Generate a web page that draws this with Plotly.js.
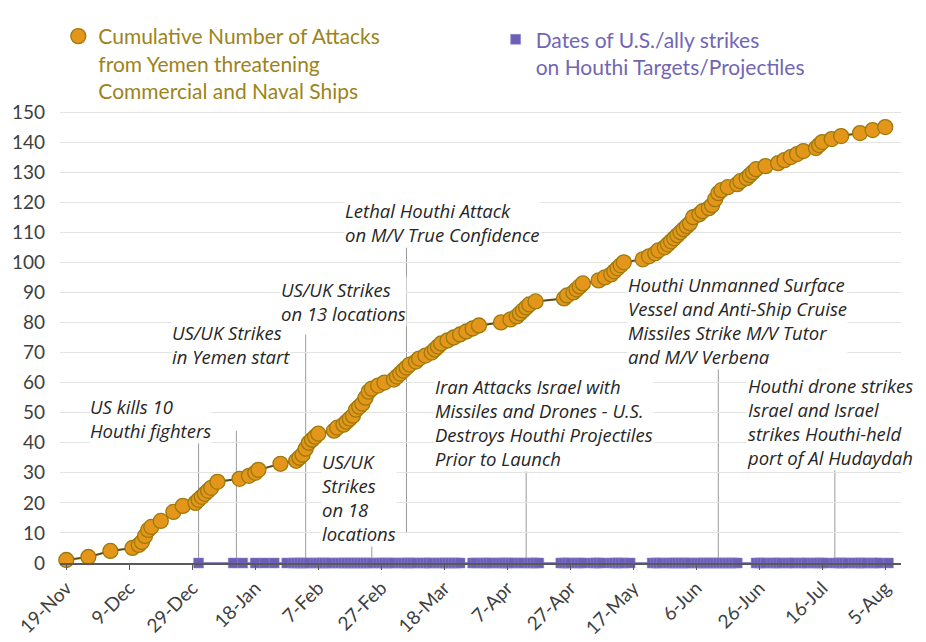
<!DOCTYPE html>
<html>
<head>
<meta charset="utf-8">
<script src="https://cdn.plot.ly/plotly-3.0.1.min.js"></script>
<style>html,body{margin:0;padding:0;background:#fff;}#chart{width:926px;height:642px;}</style>
</head>
<body>
<div id="chart"></div>
<script>
// ---- Cumulative attacks from Yemen ----
const attackDates = [
  '2023-11-19','2023-11-26','2023-12-03','2023-12-10','2023-12-12','2023-12-13','2023-12-14','2023-12-15','2023-12-16','2023-12-19',
  '2023-12-23','2023-12-26','2023-12-30','2023-12-31','2024-01-01','2024-01-02','2024-01-03','2024-01-04','2024-01-06',
  '2024-01-13','2024-01-16','2024-01-18','2024-01-19','2024-01-26','2024-01-31','2024-02-01','2024-02-02','2024-02-03','2024-02-04',
  '2024-02-05','2024-02-06','2024-02-07','2024-02-12','2024-02-13','2024-02-15','2024-02-16','2024-02-17','2024-02-18','2024-02-19',
  '2024-02-20','2024-02-21','2024-02-22','2024-02-23','2024-02-24','2024-02-26','2024-02-28','2024-03-02','2024-03-03','2024-03-04',
  '2024-03-05','2024-03-06','2024-03-07','2024-03-09','2024-03-10','2024-03-12','2024-03-14','2024-03-15','2024-03-16','2024-03-17',
  '2024-03-19','2024-03-21','2024-03-23','2024-03-25','2024-03-27','2024-03-29','2024-04-05','2024-04-08','2024-04-10','2024-04-11',
  '2024-04-12','2024-04-13','2024-04-14','2024-04-16','2024-04-25','2024-04-26','2024-04-28','2024-04-29','2024-04-30','2024-05-01',
  '2024-05-06','2024-05-08','2024-05-10','2024-05-11','2024-05-12','2024-05-13','2024-05-14','2024-05-20','2024-05-22','2024-05-24',
  '2024-05-25','2024-05-27','2024-05-28','2024-05-29','2024-05-30','2024-05-31','2024-06-01','2024-06-02','2024-06-03','2024-06-04',
  '2024-06-05','2024-06-07','2024-06-08','2024-06-10','2024-06-11','2024-06-12','2024-06-13','2024-06-14','2024-06-16','2024-06-19',
  '2024-06-20','2024-06-22','2024-06-23','2024-06-24','2024-06-25','2024-06-28','2024-07-02','2024-07-04','2024-07-06','2024-07-08',
  '2024-07-10','2024-07-14','2024-07-15','2024-07-16','2024-07-19','2024-07-22','2024-07-28','2024-08-01','2024-08-05'
];
const attackCounts = [
  1,2,4,5,6,7,9,11,12,14,
  17,19,20,21,22,23,24,25,27,
  28,29,30,31,33,34,35,36,38,40,
  41,42,43,44,45,46,47,48,49,51,
  52,53,55,57,58,59,60,61,62,63,
  64,65,66,67,68,69,70,71,72,73,
  74,75,76,77,78,79,80,81,82,83,
  84,85,86,87,88,89,90,91,92,93,
  94,95,96,97,98,99,100,101,102,103,
  104,105,106,107,108,109,110,111,112,113,
  115,116,117,118,119,121,123,124,125,126,
  127,128,129,130,131,132,133,134,135,136,
  137,138,139,140,141,142,143,144,145
];

// ---- Dates of U.S./ally strikes ----
const strikeDates = [
  '2023-12-31',
  '2024-01-11','2024-01-14','2024-01-18','2024-01-21','2024-01-24','2024-01-28',
  '2024-01-30','2024-01-31','2024-02-01','2024-02-02','2024-02-03','2024-02-04','2024-02-06','2024-02-07','2024-02-08','2024-02-09',
  '2024-02-10','2024-02-11','2024-02-13','2024-02-14','2024-02-15','2024-02-16','2024-02-17','2024-02-18','2024-02-19','2024-02-20',
  '2024-02-21','2024-02-22','2024-02-23','2024-02-24','2024-02-26','2024-02-27','2024-02-28','2024-02-29','2024-03-01','2024-03-02',
  '2024-03-04','2024-03-05','2024-03-06','2024-03-07','2024-03-08','2024-03-09','2024-03-11','2024-03-12','2024-03-13','2024-03-14',
  '2024-03-16','2024-03-17','2024-03-18','2024-03-19','2024-03-20','2024-03-21','2024-03-22','2024-03-23','2024-03-27','2024-03-28',
  '2024-03-30','2024-03-31','2024-04-01','2024-04-02','2024-04-04','2024-04-05','2024-04-06','2024-04-07','2024-04-08','2024-04-09',
  '2024-04-11','2024-04-12','2024-04-14','2024-04-15','2024-04-16','2024-04-17',
  '2024-04-24','2024-04-25','2024-04-26','2024-04-27','2024-04-29','2024-04-30','2024-05-01','2024-05-04','2024-05-05','2024-05-06',
  '2024-05-07','2024-05-10','2024-05-11','2024-05-12','2024-05-13','2024-05-14','2024-05-16',
  '2024-05-23','2024-05-24','2024-05-25','2024-05-26','2024-05-28','2024-05-29','2024-05-30','2024-05-31','2024-06-01','2024-06-02',
  '2024-06-03','2024-06-04','2024-06-06','2024-06-07','2024-06-08','2024-06-09','2024-06-10','2024-06-11','2024-06-12','2024-06-13',
  '2024-06-14','2024-06-15','2024-06-16','2024-06-17','2024-06-18','2024-06-19',
  '2024-06-25','2024-06-26','2024-06-27','2024-06-28','2024-06-30','2024-07-01','2024-07-02','2024-07-03','2024-07-05','2024-07-06',
  '2024-07-07','2024-07-09','2024-07-10','2024-07-11','2024-07-13','2024-07-14','2024-07-15','2024-07-16','2024-07-17','2024-07-20',
  '2024-07-21','2024-07-22','2024-07-23','2024-07-24','2024-07-26','2024-07-27','2024-07-28','2024-07-29','2024-07-30','2024-08-01',
  '2024-08-02','2024-08-03','2024-08-06'
];
const strikeLevel = strikeDates.map(() => 0);

// ---- Axis ticks ----
const tickDates = ['2023-11-19','2023-12-09','2023-12-29','2024-01-18','2024-02-07','2024-02-27','2024-03-18',
                   '2024-04-07','2024-04-27','2024-05-17','2024-06-06','2024-06-26','2024-07-16','2024-08-05'];
const tickLabels = ['19-Nov','9-Dec','29-Dec','18-Jan','7-Feb','27-Feb','18-Mar','7-Apr','27-Apr','17-May','6-Jun','26-Jun','16-Jul','5-Aug'];

// ---- Event call-outs ----
const eventDates = ['2023-12-31','2024-01-12','2024-02-03','2024-02-24','2024-03-06','2024-04-13','2024-06-13','2024-07-20'];
const eventLineTop = [41, 44, 76, 6.5, 105, 32, 65, 32.5];
const eventLineBottom = [0, 0, 0, 0, 10, 0, 0, 0];
const eventLabels = [
  'US kills 10<br>Houthi fighters',
  'US/UK Strikes<br>in Yemen start',
  'US/UK Strikes<br>on 13 locations',
  'US/UK<br>Strikes<br>on 18<br>locations',
  'Lethal Houthi Attack<br>on M/V True Confidence',
  'Iran Attacks Israel with<br>Missiles and Drones - U.S.<br>Destroys Houthi Projectiles<br>Prior to Launch',
  'Houthi Unmanned Surface<br>Vessel and Anti-Ship Cruise<br>Missiles Strike M/V Tutor<br>and M/V Verbena',
  'Houthi drone strikes<br>Israel and Israel<br>strikes Houthi-held<br>port of Al Hudaydah'
];

// label block positions (paper coords, top-left)
const labelPos = [
  [0.0345, 0.372], [0.1320, 0.535], [0.2616, 0.627], [0.3103, 0.251],
  [0.3377, 0.800], [0.4447, 0.415], [0.6742, 0.640], [0.8157, 0.419]
];

const FONT = 'Lato, "Open Sans", "DejaVu Sans", sans-serif';
const NOTE_FONT = '"Open Sans", "Noto Sans", sans-serif';

const traces = [
  { x: strikeDates, y: strikeLevel, type: 'scatter', mode: 'lines', showlegend: false, hoverinfo: 'skip',
    line: { color: '#6f67ad', width: 1.5 }, cliponaxis: false },
  { x: strikeDates, y: strikeLevel, type: 'scatter', mode: 'markers', name: 'Dates of U.S./ally strikes<br>on Houthi Targets/Projectiles',
    legend: 'legend2',
    marker: { symbol: 'square', size: 10, color: '#6a5eb6', line: { color: '#9189d2', width: 0.5 } }, cliponaxis: false },
  { x: attackDates, y: attackCounts, type: 'scatter', mode: 'lines', showlegend: false, hoverinfo: 'skip',
    line: { color: '#5e4a18', width: 2 }, cliponaxis: false },
  { x: attackDates, y: attackCounts, type: 'scatter', mode: 'markers',
    name: 'Cumulative Number of Attacks<br>from Yemen threatening<br>Commercial and Naval Ships',
    legend: 'legend',
    marker: { symbol: 'circle', size: 15, color: '#e3961a', line: { color: '#9c7a0c', width: 1.3 } }, cliponaxis: false }
];

const shapes = eventDates.map((d, i) => ({
  type: 'line', xref: 'x', yref: 'y', x0: d, x1: d, y0: eventLineBottom[i], y1: eventLineTop[i],
  line: { color: '#9a9a9a', width: 1 }, layer: 'below'
}));

const annotations = eventLabels.map((t, i) => ({
  xref: 'paper', yref: 'paper', x: labelPos[i][0], y: labelPos[i][1], xanchor: 'left', yanchor: 'top',
  text: t, showarrow: false, align: 'left', bgcolor: 'rgba(255,255,255,0.95)', borderpad: 0,
  font: { family: NOTE_FONT, size: 18.5, color: '#262626', style: 'italic' }
}));

const layout = {
  width: 926, height: 642,
  margin: { l: 60, r: 25, t: 106, b: 79 },
  paper_bgcolor: '#ffffff', plot_bgcolor: '#ffffff',
  font: { family: FONT, color: '#404040' },
  xaxis: {
    type: 'date', range: ['2023-11-17', '2024-08-10'],
    tickvals: tickDates, ticktext: tickLabels, tickangle: -45,
    tickfont: { family: FONT, size: 19, color: '#404040' },
    showgrid: false, zeroline: false, showline: true, linecolor: '#595959', linewidth: 1.5,
    ticks: 'outside', ticklen: 5, tickcolor: '#595959', automargin: false
  },
  yaxis: {
    range: [0, 152], tick0: 0, dtick: 10,
    tickfont: { family: FONT, size: 19, color: '#404040' },
    showgrid: true, gridcolor: '#e3e3e3', gridwidth: 1, zeroline: false, showline: false,
    ticks: '', ticklabelstandoff: 14, automargin: false
  },
  legend: {
    x: -0.002, y: 1.197, xanchor: 'left', yanchor: 'top', orientation: 'v', valign: 'top',
    bgcolor: 'rgba(0,0,0,0)', font: { family: FONT, size: 21, color: '#9c8419' }, tracegroupgap: 0
  },
  legend2: {
    x: 0.518, y: 1.19, xanchor: 'left', yanchor: 'top', orientation: 'v', valign: 'top',
    bgcolor: 'rgba(0,0,0,0)', font: { family: FONT, size: 21, color: '#7166b5' }
  },
  shapes: shapes,
  annotations: annotations,
  hovermode: false
};

Plotly.newPlot('chart', traces, layout, { displayModeBar: false, staticPlot: true });
</script>
</body>
</html>
